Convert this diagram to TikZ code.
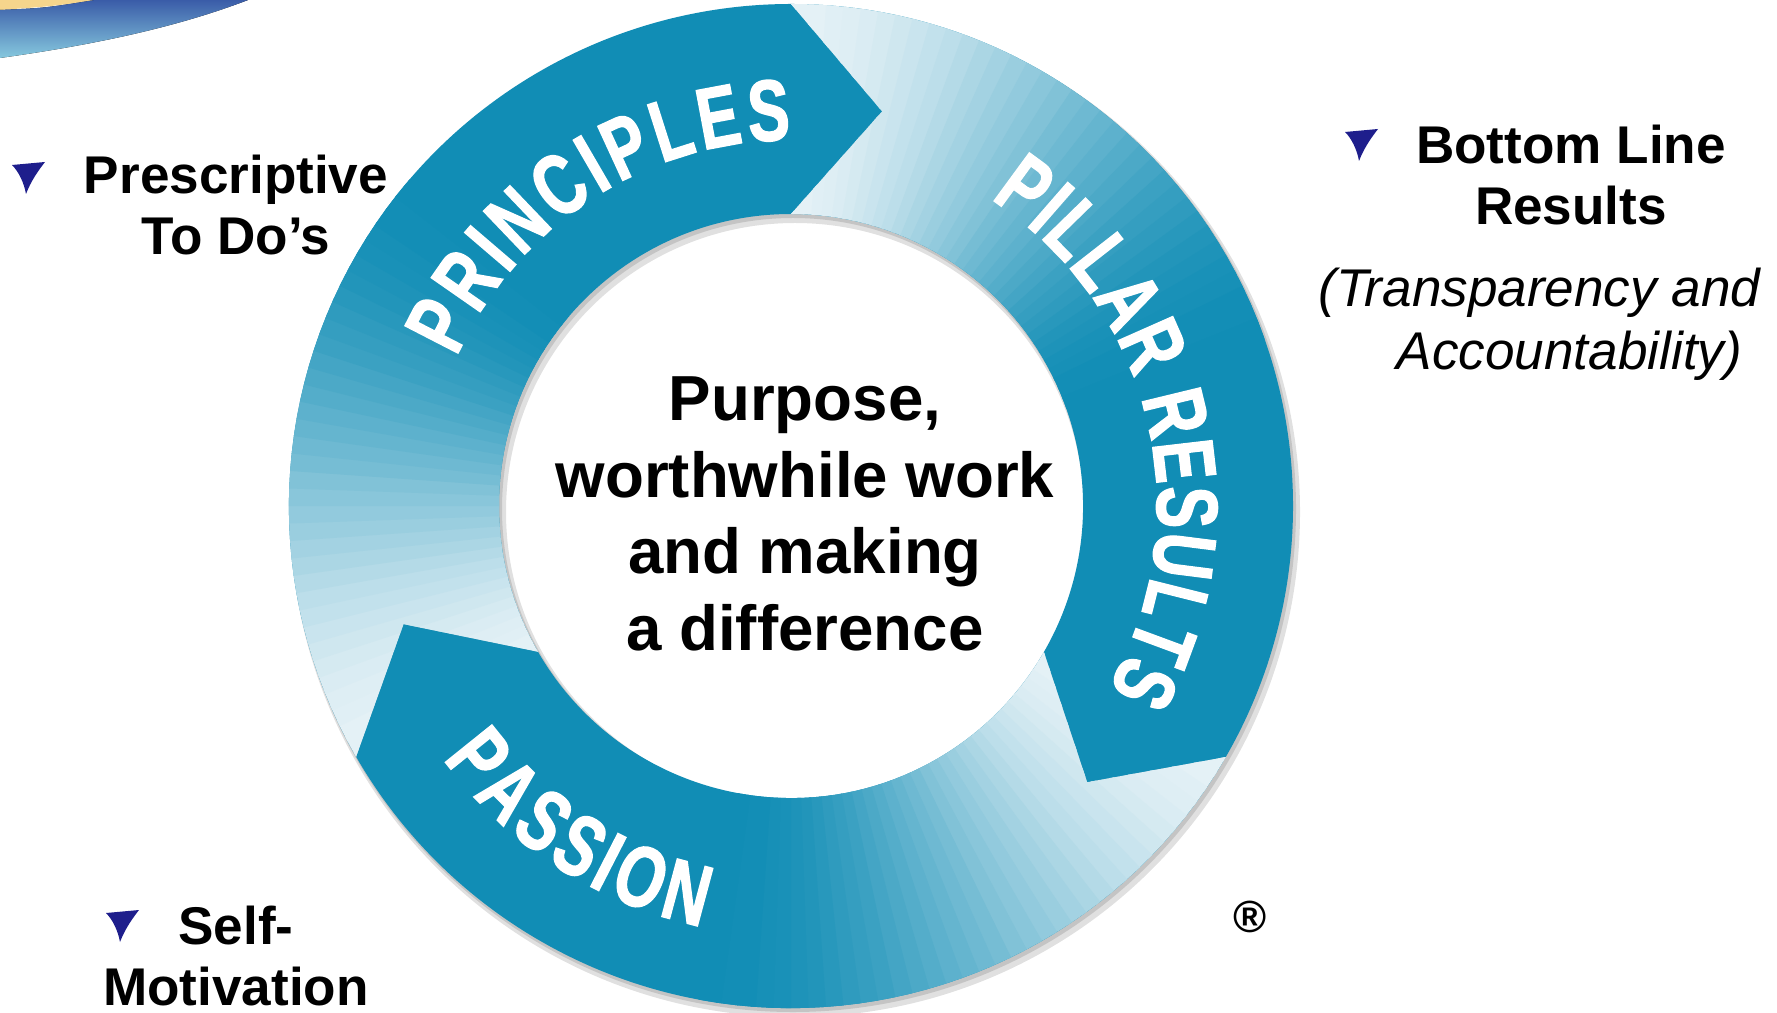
\documentclass[tikz,border=0pt]{standalone}
\usepackage{fontspec}
\setmainfont{Liberation Sans}
\newfontfamily\ringfont{Liberation Sans}[UprightFont={* Bold},FakeStretch=0.72,FakeBold=1.5]
\usetikzlibrary{decorations.text}

\definecolor{ringdark}{HTML}{118DB5}
\definecolor{ringlight}{HTML}{E4F1F6}
\definecolor{tickblue}{HTML}{1E1E8C}
\definecolor{swooshdark}{HTML}{3A5CA8}
\definecolor{swooshlight}{HTML}{86C8DE}
\definecolor{swooshsun}{HTML}{F6D58C}

\newcommand\ringstyle{\fontsize{24.7}{26}\ringfont\color{white}}

\tikzset{
  bigtext/.style={font=\bfseries\fontsize{18.1}{21.8}\selectfont, align=center},
  sidetext/.style={font=\bfseries\fontsize{15.1}{17.6}\selectfont, align=center},
  notetext/.style={font=\itshape\fontsize{15.1}{17.8}\selectfont, align=left, inner sep=0pt},
  ringword/.style={decorate, decoration={text along path, text align=fit to path, text={|\ringstyle|#1}}}
}

\begin{document}
\begin{tikzpicture}[x=0.01cm,y=0.01cm]
  \useasboundingbox[fill=white] (0,0) rectangle (1777,-1013);

  % corner swoosh
  \fill[swooshsun] (0,0) -- (95,0) .. controls (55,-6) .. (0,-10) -- cycle;
  \fill[top color=swooshdark,bottom color=swooshlight] (0,-10) .. controls (45,-8) .. (95,0) -- (248,0) .. controls (180,-26) and (100,-44) .. (0,-58) -- cycle;

  \begin{scope}[shift={(791,-506)}]
    % shadow
    \fill[black,opacity=0.12,even odd rule] (4,-6) circle (505) (4,-6) circle (289);
    \fill[black,opacity=0.12,even odd rule] (2,-3) circle (503) (2,-3) circle (291);

    % the three arrows, light tail to dark head
    \foreach \rot in {120,0,-120} {
      \begin{scope}[rotate=\rot]
        \clip (90:502) arc[start angle=90,end angle=-30,radius=502] -- (-43:405) -- (-30:292)
          arc[start angle=-30,end angle=90,radius=292] -- (77:405) -- cycle;
        \fill[ringdark] (0,0) circle (520);
        \foreach \i in {0,...,35} {
          \pgfmathsetmacro\a{92-2*\i}
          \pgfmathtruncatemacro\p{100*(3*(\i/35)^2-2*(\i/35)^3)}
          \fill[ringdark!\p!ringlight] (0,0) -- (\a:530) arc[start angle=\a,delta angle=-2.6,radius=530] -- cycle;
        }
      \end{scope}
    }

    \path[ringword=PRINCIPLES] (156:366) arc[start angle=156,end angle=90,radius=366];
    \path[ringword=PILLAR RESULTS] (57:366) arc[start angle=57,end angle=-30,radius=366];
    \path[ringword=PASSION] (216:430) arc[start angle=216,end angle=258,radius=430];

    \node[bigtext] (purpose) at (14,-8) {Purpose,\\worthwhile work\\and making\\a difference};
  \end{scope}

  \node[sidetext] (prescriptive) at (236,-205) {Prescriptive\\To Do’s};
  \node[sidetext] (bottomline) at (1571,-175) {Bottom Line\\Results};
  \node[notetext,anchor=west] (transparency) at (1318,-324) {(Transparency and\\\hspace*{0.78cm}Accountability)};
  \node[sidetext] (selfmotivation) at (236,-956) {Self-\\Motivation};
  \node[font=\bfseries\fontsize{12.8}{14}\selectfont] (registered) at (1250,-917) {\textregistered};

  % bullets
  \fill[tickblue,shift={(12,-165)}] (0,0) -- (33,3)
    .. controls (26,-6) and (19,-16) .. (14,-29) .. controls (12,-18) and (7,-7) .. cycle;
  \fill[tickblue,shift={(1345,-132)}] (0,0) -- (33,3)
    .. controls (26,-6) and (19,-16) .. (14,-29) .. controls (12,-18) and (7,-7) .. cycle;
  \fill[tickblue,shift={(106,-913)}] (0,0) -- (33,3)
    .. controls (26,-6) and (19,-16) .. (14,-29) .. controls (12,-18) and (7,-7) .. cycle;
\end{tikzpicture}
\end{document}
